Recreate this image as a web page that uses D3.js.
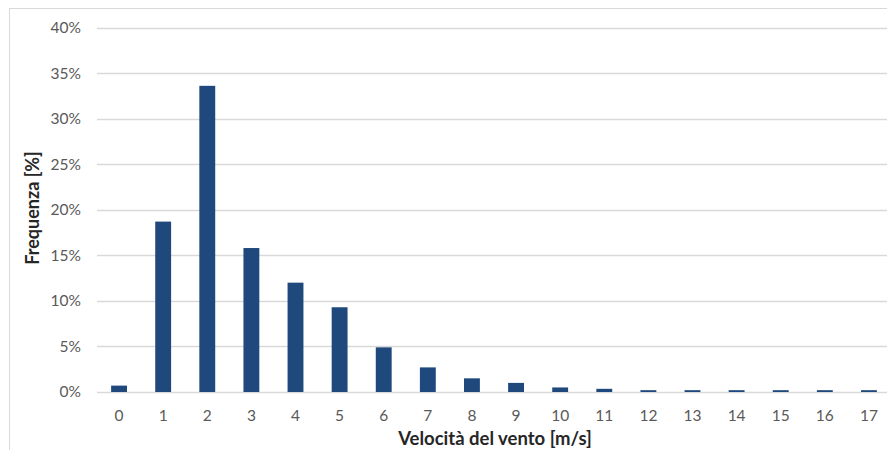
<!DOCTYPE html>
<html><head><meta charset="utf-8">
<script src="https://cdn.jsdelivr.net/npm/d3@7"></script>
<style>body{margin:0;background:#fff;}svg{display:block;font-family:Lato,"Open Sans",sans-serif;}</style>
</head><body>
<svg id="c" width="887" height="450"></svg>
<script>
const categories = ["0","1","2","3","4","5","6","7","8","9","10","11","12","13","14","15","16","17"];
const values = [0.7,18.7,33.6,15.8,12.0,9.3,4.9,2.7,1.5,1.0,0.5,0.35,0.2,0.2,0.2,0.2,0.2,0.2];
const yTicks = [0,5,10,15,20,25,30,35,40];

const svg = d3.select("#c");
svg.append("rect").attr("x",9.5).attr("y",8.5).attr("width",890).attr("height",450)
  .attr("fill","#fff").attr("stroke","#d9d9d9");

const x = d3.scaleBand().domain(categories).range([97,891]).paddingInner(0.64).paddingOuter(0.32);
const y = d3.scaleLinear().domain([0,40]).range([392,27.5]);

// grid
svg.append("g").selectAll("line").data(yTicks).join("line")
  .attr("x1",97).attr("x2",891).attr("y1",d=>Math.round(y(d))+0.5).attr("y2",d=>Math.round(y(d))+0.5)
  .attr("stroke","#d9d9d9").attr("stroke-width",1.3);

// bars
svg.append("g").selectAll("rect").data(values).join("rect")
  .attr("x",(d,i)=>x(categories[i])).attr("width",x.bandwidth())
  .attr("y",d=>y(d)).attr("height",d=>y(0)-y(d)).attr("fill","#1F497D");

// y axis
const ya = d3.axisLeft(y).tickValues(yTicks).tickFormat(d=>d+"%").tickSize(0).tickPadding(16);
const gy = svg.append("g").attr("transform","translate(97,0)").call(ya);
gy.select(".domain").remove();
gy.selectAll("text").attr("fill","#595959").style("font-size","15.5px").style("font-family","Lato, sans-serif");

// x axis
const xa = d3.axisBottom(x).tickSize(0).tickPadding(18);
const gx = svg.append("g").attr("transform","translate(0,392)").call(xa);
gx.select(".domain").remove();
gx.selectAll("text").attr("fill","#595959").style("font-size","15.5px").style("font-family","Lato, sans-serif");

// titles
svg.append("text").attr("x",495).attr("y",445).attr("text-anchor","middle")
  .attr("fill","#262626").style("font-size","18.5px").style("font-weight","bold").text("Velocità del vento [m/s]");
svg.append("text").attr("transform","translate(39,208) rotate(-90)").attr("text-anchor","middle")
  .attr("fill","#262626").style("font-size","18px").style("font-weight","bold").text("Frequenza [%]");
</script>
</body></html>
